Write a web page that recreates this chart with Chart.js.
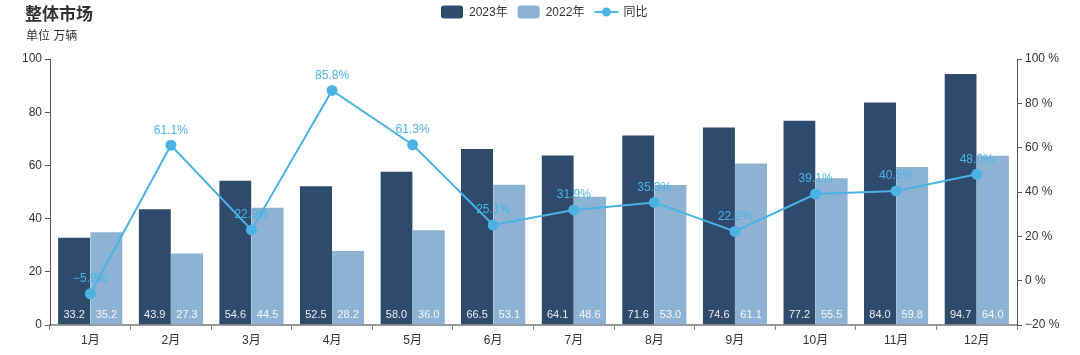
<!DOCTYPE html>
<html><head><meta charset="utf-8">
<script src="https://cdn.jsdelivr.net/npm/chart.js@4.4.1/dist/chart.umd.min.js"></script>
<style>html,body{margin:0;padding:0;background:#fff;}#wrap{width:1080px;height:355px;position:relative;}</style>
</head><body><div id="wrap"><canvas id="c" width="1080" height="355"></canvas></div>
<script>
const categories = ['1月','2月','3月','4月','5月','6月','7月','8月','9月','10月','11月','12月'];
const sales2023 = [33.2,43.9,54.6,52.5,58.0,66.5,64.1,71.6,74.6,77.2,84.0,94.7];
const sales2022 = [35.2,27.3,44.5,28.2,36.0,53.1,48.6,53.0,61.1,55.5,59.8,64.0];
const yoy = [-5.9,61.1,22.9,85.8,61.3,25.1,31.9,35.3,22.2,39.1,40.5,48.0];
const titleText = '整体市场';
const unitText = '单位 万辆';
const seriesNames = ['2023年','2022年','同比'];
const colors = ['#2e4b6e','#8db3d4','#4ab3e2'];
const FONT = '"Liberation Sans", Arial, "Noto Sans CJK SC", sans-serif';

const decor = {
  id:'decor',
  afterDatasetsDraw(chart){
    const ctx = chart.ctx;
    ctx.save();
    ctx.font = '11px ' + FONT;
    ctx.textAlign = 'center'; ctx.textBaseline = 'middle';
    chart.data.datasets.forEach((ds,di)=>{
      if (ds.type !== 'bar') return;
      const meta = chart.getDatasetMeta(di);
      meta.data.forEach((bar,i)=>{
        ctx.fillStyle = 'rgba(255,255,255,0.9)';
        ctx.fillText(ds.data[i].toFixed(1), bar.x, chart.chartArea.bottom - 10);
      });
    });
    ctx.font = '12px ' + FONT;
    ctx.fillStyle = colors[2];
    chart.data.datasets.forEach((ds,di)=>{
      if (ds.type !== 'line') return;
      const lm = chart.getDatasetMeta(di);
      lm.data.forEach((pt,i)=>{
        const v = ds.data[i];
        ctx.fillText((v<0?'\u2212'+Math.abs(v).toFixed(1):v.toFixed(1))+'%', pt.x, pt.y - 15);
      });
    });
    ctx.restore();
  },
  afterDraw(chart){
    const ctx = chart.ctx;
    ctx.save();
    ctx.textBaseline = 'middle'; ctx.textAlign='left';
    ctx.fillStyle = '#333';
    ctx.font = 'bold 17px ' + FONT;
    ctx.fillText(titleText, 25, 15);
    ctx.font = '12px ' + FONT;
    ctx.fillText(unitText, 26, 37);
    let x = 441; const y = 12;
    ctx.font = '12px ' + FONT;
    [0,1].forEach(i=>{
      ctx.fillStyle = colors[i];
      ctx.beginPath(); ctx.roundRect(x, y-6.5, 22, 13, 3); ctx.fill();
      ctx.fillStyle = '#333';
      ctx.fillText(seriesNames[i], x+28, y+0.5);
      x += 28 + ctx.measureText(seriesNames[i]).width + 10;
    });
    ctx.strokeStyle = colors[2]; ctx.lineWidth = 2;
    ctx.beginPath(); ctx.moveTo(x, y); ctx.lineTo(x+24, y); ctx.stroke();
    ctx.fillStyle = colors[2];
    ctx.beginPath(); ctx.arc(x+12, y, 4.5, 0, Math.PI*2); ctx.fill();
    ctx.fillStyle = '#333';
    ctx.fillText(seriesNames[2], x+29, y+0.5);
    ctx.restore();
  }
};

new Chart(document.getElementById('c'), {
  data:{
    labels: categories,
    datasets:[
      {type:'line', label:seriesNames[2], data:yoy, yAxisID:'y1', borderColor:colors[2], backgroundColor:colors[2], borderWidth:2, pointRadius:4.5, pointHoverRadius:4.5, tension:0, order:0},
      {type:'bar', label:seriesNames[0], data:sales2023, yAxisID:'y', backgroundColor:colors[0], borderColor:'rgba(255,255,255,0.6)', borderWidth:{top:1,left:0,right:0,bottom:0}, categoryPercentage:0.8, barPercentage:1.0, order:1},
      {type:'bar', label:seriesNames[1], data:sales2022, yAxisID:'y', backgroundColor:colors[1], borderColor:'rgba(255,255,255,0.6)', borderWidth:{top:1,left:0,right:0,bottom:0}, categoryPercentage:0.8, barPercentage:1.0, order:2}
    ]
  },
  options:{
    responsive:false, animation:false,
    layout:{padding:{top:59,left:0,right:0,bottom:0}},
    plugins:{legend:{display:false}, tooltip:{enabled:false}},
    scales:{
      x:{
        grid:{drawOnChartArea:false, drawTicks:true, tickLength:5, color:'#888', offset:true},
        border:{display:true, color:'#999', width:2},
        ticks:{color:'#333', font:{size:12, family:FONT}, padding:3},
        afterFit(s){ s.height = 30; }
      },
      y:{
        position:'left', min:0, max:100,
        ticks:{stepSize:20, color:'#333', font:{size:12, family:FONT}, padding:3},
        grid:{drawOnChartArea:false, drawTicks:true, tickLength:5, color:'#555'},
        border:{display:true, color:'#555', width:1},
        afterFit(s){ s.width = 50; }
      },
      y1:{
        position:'right', min:-20, max:100,
        ticks:{stepSize:20, color:'#333', font:{size:12, family:FONT}, padding:3,
          callback:(v)=> (v<0?'\u2212'+Math.abs(v):v)+' %'},
        grid:{drawOnChartArea:false, drawTicks:true, tickLength:5, color:'#555'},
        border:{display:true, color:'#555', width:1},
        afterFit(s){ s.width = 63; }
      }
    }
  },
  plugins:[decor]
});
</script></body></html>
